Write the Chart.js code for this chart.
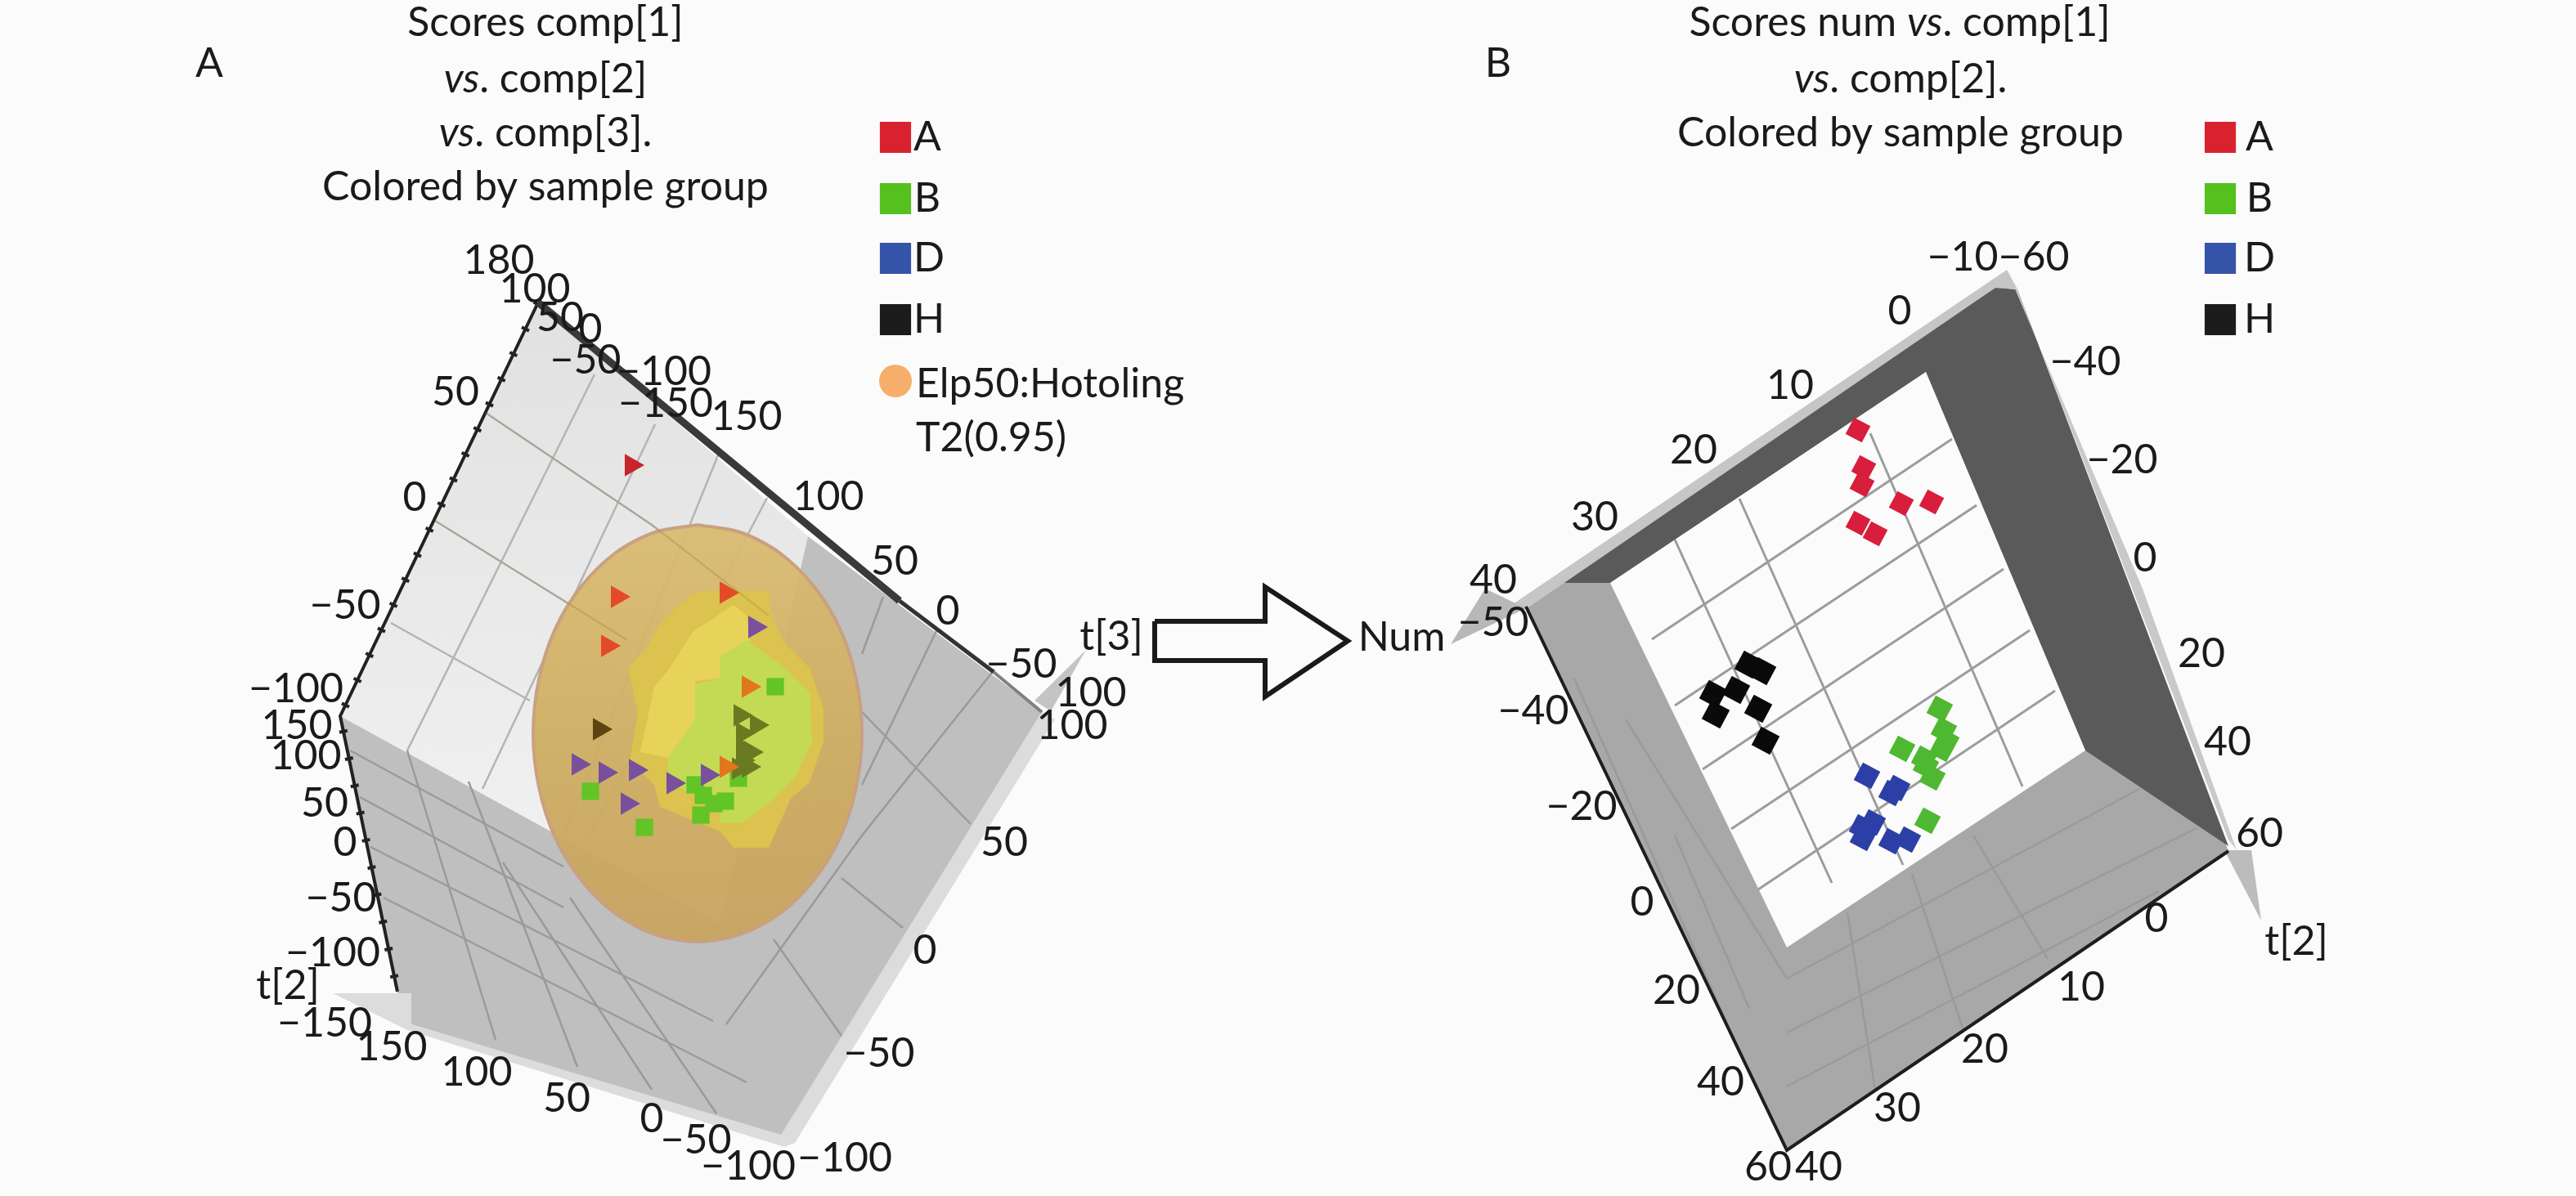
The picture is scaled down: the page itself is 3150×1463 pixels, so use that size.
<!DOCTYPE html>
<html lang="en">
<head>
<meta charset="UTF-8">
<title>Scores plots A and B</title>
<script src="https://cdn.jsdelivr.net/npm/chart.js@4"></script>
<style>
  html, body { margin: 0; padding: 0; background: #fbfbfb; }
  canvas { display: block; }
</style>
</head>
<body>
<canvas id="scores" width="3150" height="1463"></canvas>
<script>
// group markers as [x, y] on the page
const groupA_left = [[772,569],[755,730],[743,790],[888,725],[915,840],[888,938]];
const groupB_left = [[722,968],[788,1012],[948,840],[903,952],[860,973],[873,983],[857,997],[887,980],[850,960]];
const groupD_left = [[707,935],[740,945],[777,942],[767,983],[823,958],[865,948],[923,767]];
const groupH_left = [[733,892],[905,875],[925,887],[908,897],[908,915],[918,920],[908,930],[915,938],[903,940]];

const groupA_right = [[2272,526],[2279,572],[2277,593],[2325,616],[2362,614],[2272,640],[2293,653]];
const groupB_right = [[2372,867],[2377,893],[2380,907],[2375,916],[2326,916],[2353,928],[2355,937],[2363,951],[2357,1004]];
const groupD_right = [[2283,949],[2320,964],[2313,970],[2277,1012],[2290,1006],[2278,1025],[2313,1029],[2333,1027]];
const groupH_right = [[2138,813],[2155,821],[2123,844],[2095,849],[2098,874],[2150,867],[2159,906]];

// panel A box faces
const faceLightA = [[658,370],[988,656],[880,1130],[416,876]];
const faceGreyA = [[416,876],[486,1213],[503,1253],[955,1390],[1274,871],[988,656],[880,1130]];
const slivBottomA = [[407,1215],[503,1215],[503,1253],[955,1388],[959,1403],[498,1260]];
const slivRightA = [[955,1388],[1274,871],[1290,880],[972,1398],[959,1403]];
const arrowT3 = [[1265,857],[1328,795],[1285,870]];

// T2 ellipsoid and its contours
const sphereOutline = [[853,642],[905,651],[953,676],[995,717],[1027,769],[1047,831],[1054,897],[1047,963],[1027,1025],[995,1077],[953,1118],[905,1143],[853,1152],[801,1143],[753,1118],[711,1077],[679,1025],[659,963],[652,897],[659,831],[679,769],[711,717],[753,676],[801,651]];
const zoneDarkYellow = [[853,723],[940,723],[943,753],[960,787],[990,817],[1007,867],[1007,907],[990,957],[967,977],[940,1037],[897,1037],[880,1017],[807,987],[800,960],[770,930],[780,873],[768,817],[790,793],[807,763],[830,740]];
const zoneYellow = [[897,740],[913,753],[917,783],[900,800],[880,817],[880,830],[850,833],[850,880],[817,927],[783,920],[800,840],[817,820],[847,773]];
const zoneGreen = [[913,783],[960,817],[990,847],[993,907],[973,950],[947,977],[907,1007],[880,1007],[880,980],[817,960],[817,927],[850,880],[850,837],[880,830],[880,803]];

// panel A grid lines
const gridLightA = [
  [[594,505],[797,642],[940,753]], [[532,637],[767,783]], [[478,762],[648,857]],
  [[727,458],[498,918]], [[801,519],[590,965]], [[880,552],[690,1020]], [[938,609],[717,1030]]
];
const gridGreyA = [
  [[428,918],[689,1060]], [[440,975],[689,1110]], [[453,1036],[872,1249]], [[469,1098],[913,1324]],
  [[498,918],[606,1272]], [[573,956],[706,1305]], [[615,1055],[797,1333]], [[697,1098],[876,1362]],
  [[1216,819],[1054,1022],[888,1253]], [[1145,772],[1054,960]], [[1187,1008],[1054,871]],
  [[1104,1135],[1029,1074]], [[1029,1267],[946,1149]], [[1080,730],[1054,800]]
];
const edgeLeftA = [[658,370],[416,876],[486,1213]];
const edgeTopA = [[658,370],[1100,735]];
const edgeTopLowerA = [[1100,735],[1215,822]];
const edgeTopEndA = [[1215,822],[1274,871]];

// panel B box
const outerB = [[2450,345],[1866,742],[2185,1407],[2725,1041]];
const wallDarkB = [[2440,352],[1890,713],[1969,713],[2355,455],[2550,918],[2725,1035],[2467,354]];
const floorB = [[1866,742],[1969,713],[2185,1159],[2550,918],[2725,1041],[2185,1407]];
const backB = [[2355,455],[1969,713],[2185,1159],[2550,918]];
const bandTopB = [[2454,330],[1841,745],[1866,745],[2440,352],[2467,354]];
const bandRightB = [[2454,330],[2467,354],[2725,1027],[2735,1040],[2620,720]];
const arrowNum = [[1774,788],[1816,720],[1866,744]];
const arrowT2 = [[2720,1040],[2753,1040],[2765,1126]];

const gridBackB = [
  [[2020,782],[2387,537]], [[2048,863],[2417,618]], [[2082,941],[2450,696]],
  [[2117,1014],[2482,771]], [[2150,1088],[2513,845]],
  [[2048,660],[2240,1080]], [[2127,610],[2327,1058]], [[2287,530],[2473,962]]
];
const gridFloorB = [
  [[2185,1197],[2616,965]], [[2185,1263],[2686,1013]], [[2185,1329],[2640,1090]],
  [[2259,1116],[2293,1333]], [[2338,1069],[2400,1258]], [[2413,1022],[2504,1173]],
  [[2048,1022],[2139,1234]], [[1988,880],[2185,1197]], [[1925,830],[2120,1270]]
];
const edgeB = [[1866,742],[2185,1407],[2725,1041]];

const arrowOutline = [[1412,760],[1547,760],[1547,718],[1648,784],[1547,852],[1547,808],[1412,808]];

// legends
const legendRowY = [168,243,316,391];
const legendColors = ['#d8232f','#55c01e','#3553a8','#1c1c1c'];
const legendNames = ['A','B','D','H'];
const legendLeftX = 1095;
const legendRightX = 2715;
const t2Swatch = [[1095,466]];

// axis tick labels [text, x, y]
const ticksLeft = [
  ['180',610,319],['100',654,354],['50',685,389],['0',722,403],['−50',716,441],['−100',812,455],['−150',814,494],
  ['150',913,510],['100',1013,608],['50',1094,687],['0',1159,748],['−50',1249,813],['100',1334,848],['100',1311,888],
  ['50',557,480],['0',507,609],['−50',422,741],['−100',362,843],['150',363,888],['100',374,925],['50',397,983],
  ['0',422,1031],['−50',417,1099],['−100',407,1166],['−150',397,1252],['150',479,1281],['100',583,1312],['50',693,1344],
  ['0',797,1369],['−50',851,1395],['−100',915,1427],['−100',1033,1417],['−50',1075,1289],['0',1131,1163],['50',1228,1031],
  ['t[2]',352,1206],['t[3]',1359,779]
];
const ticksRight = [
  ['−10',2400,315],['−60',2487,315],['0',2323,381],['10',2189,472],['20',2071,551],['30',1950,633],['40',1826,710],
  ['−40',2550,443],['−20',2595,563],['0',2623,683],['20',2692,800],['40',2724,908],['60',2763,1020],['t[2]',2808,1152],
  ['0',2637,1124],['10',2545,1208],['20',2427,1284],['30',2320,1356],['40',2224,1428],['60',2162,1428],['40',2104,1324],
  ['20',2050,1212],['0',2008,1104],['−20',1934,987],['−40',1875,870],['−50',1826,762],['Num',1714,780]
];
const plainLabels = [
  ['A',256,78],['B',1832,78],
  ['A',1134,168],['B',1134,243],['D',1136,316],['H',1136,391],
  ['A',2763,168],['B',2763,243],['D',2763,316],['H',2763,391]
];
const leftAligned = [['Elp50:Hotoling',1120,470],['T2(0.95)',1120,536]];

// titles: [[text, italic?], ...], x, y
const titles = [
  [[['Scores comp[1]',false]],667,28],
  [[['vs',true],['. comp[2]',false]],667,97],
  [[['vs',true],['. comp[3].',false]],667,163],
  [[['Colored by sample group',false]],667,229],
  [[['Scores num ',false],['vs',true],['. comp[1]',false]],2323,28],
  [[['vs',true],['. comp[2].',false]],2324,97],
  [[['Colored by sample group',false]],2324,163]
];

const FONT = 'Lato, "Open Sans", sans-serif';
const FONT_SIZE = 50;

const ctx = document.getElementById('scores').getContext('2d');

function toPts(list) {
  return list.map(p => ({ x: p[0], y: p[1] }));
}

function poly(list, color, extra) {
  const pts = toPts(list);
  pts.push(pts[0]);
  return Object.assign({ data: pts, showLine: true, fill: 'shape', backgroundColor: color,
    borderColor: color, borderWidth: 0, pointRadius: 0 }, extra || {});
}

function line(list, color, width, extra) {
  return Object.assign({ data: toPts(list), showLine: true, fill: false, borderColor: color,
    borderWidth: width, pointRadius: 0 }, extra || {});
}

function marks(list, color, style, radius, rotation) {
  return { data: toPts(list), showLine: false, backgroundColor: color, borderColor: color, borderWidth: 0,
    pointStyle: style, pointRadius: radius, pointRotation: rotation };
}

const lightGrad = ctx.createLinearGradient(0, 370, 0, 1100);
lightGrad.addColorStop(0, '#e1e1e1');
lightGrad.addColorStop(1, '#f2f2f2');

const sphereGrad = ctx.createLinearGradient(0, 645, 0, 1150);
sphereGrad.addColorStop(0, 'rgba(217,186,110,0.93)');
sphereGrad.addColorStop(0.6, 'rgba(205,172,96,0.95)');
sphereGrad.addColorStop(1, 'rgba(200,164,96,0.96)');

// painter's order, reversed below since chart.js draws the first dataset last
const layers = [];

// panel A
layers.push(poly(faceLightA, lightGrad));
layers.push(poly(faceGreyA, '#bfbfbf'));
layers.push(poly(slivBottomA, '#dcdcdc'));
layers.push(poly(slivRightA, '#dcdcdc'));
layers.push(poly(arrowT3, '#c4c4c4'));
gridLightA.forEach(l => layers.push(line(l, '#b4b4b4', 2.5)));
gridGreyA.forEach(l => layers.push(line(l, '#9a9a9a', 2.5)));
layers.push(line(edgeLeftA, '#222222', 4));
layers.push(line(edgeLeftA, '#222222', 10, { borderDash: [4, 30] }));
layers.push(line(edgeTopA, '#3a3a3a', 9));
layers.push(line(edgeTopLowerA, '#333333', 5));
layers.push(line(edgeTopEndA, '#808080', 4));

layers.push(poly(sphereOutline, sphereGrad, { tension: 0.3, borderColor: '#c9a181', borderWidth: 4 }));
layers.push(poly(zoneDarkYellow, '#dcc24e'));
layers.push(poly(zoneYellow, '#e7d35a'));
layers.push(poly(zoneGreen, '#c4da54'));
gridLightA.slice(0, 2).forEach(l => layers.push(line(l, 'rgba(150,125,60,0.3)', 2)));

layers.push(marks(groupB_left, '#62c426', 'rect', 15, 0));
layers.push(marks(groupH_left.slice(1), '#6a7a20', 'triangle', 16, 90));
layers.push(marks(groupH_left.slice(0, 1), '#5c4410', 'triangle', 16, 90));
layers.push(marks(groupD_left, '#78509c', 'triangle', 16, 90));
layers.push(marks(groupA_left.slice(1, 4), '#e34a28', 'triangle', 16, 90));
layers.push(marks(groupA_left.slice(4), '#e2761f', 'triangle', 16, 90));
layers.push(marks(groupA_left.slice(0, 1), '#c8242c', 'triangle', 16, 90));

// panel B
layers.push(poly(outerB, '#a8a8a8'));
layers.push(poly(floorB, '#a8a8a8'));
layers.push(poly(wallDarkB, '#5a5a5a'));
layers.push(poly(backB, '#fbfbfb'));
layers.push(poly(bandTopB, '#c6c6c6'));
layers.push(poly(bandRightB, '#c9c9c9'));
layers.push(poly(arrowNum, '#b8b8b8'));
layers.push(poly(arrowT2, '#bcbcbc'));
gridBackB.forEach(l => layers.push(line(l, '#9c9c9c', 3)));
gridFloorB.forEach(l => layers.push(line(l, '#9a9a9a', 2.5)));
layers.push(line(edgeB, '#1e1e1e', 4));

layers.push(marks(groupH_right, '#0a0a0a', 'rect', 18, 28));
layers.push(marks(groupB_right, '#4fb832', 'rect', 17, 28));
layers.push(marks(groupD_right, '#2c3fa6', 'rect', 17, 28));
layers.push(marks(groupA_right, '#d81e3c', 'rect', 16, 28));

// arrow between the panels
layers.push(poly(arrowOutline, '#fbfbfb', { borderColor: '#1a1a1a', borderWidth: 6 }));

// legends
legendNames.forEach((name, i) => {
  layers.push(marks([[legendLeftX, legendRowY[i]], [legendRightX, legendRowY[i]]], legendColors[i], 'rect', 27, 0));
});
layers.push(marks(t2Swatch, '#f7ae6b', 'circle', 20, 0));

const textPlugin = {
  id: 'chartText',
  afterDraw(chart) {
    const c = chart.ctx;
    const sx = chart.scales.x, sy = chart.scales.y;
    c.save();
    c.fillStyle = '#1a1a1a';
    c.textBaseline = 'middle';
    c.font = FONT_SIZE + 'px ' + FONT;
    c.textAlign = 'center';
    ticksLeft.concat(ticksRight, plainLabels).forEach(t => {
      c.fillText(t[0], sx.getPixelForValue(t[1]), sy.getPixelForValue(t[2]));
    });
    c.textAlign = 'left';
    leftAligned.forEach(t => {
      c.fillText(t[0], sx.getPixelForValue(t[1]), sy.getPixelForValue(t[2]));
    });
    titles.forEach(t => {
      let w = 0;
      t[0].forEach(seg => {
        c.font = (seg[1] ? 'italic ' : '') + FONT_SIZE + 'px ' + FONT;
        w += c.measureText(seg[0]).width;
      });
      let x = sx.getPixelForValue(t[1]) - w / 2;
      t[0].forEach(seg => {
        c.font = (seg[1] ? 'italic ' : '') + FONT_SIZE + 'px ' + FONT;
        c.fillText(seg[0], x, sy.getPixelForValue(t[2]));
        x += c.measureText(seg[0]).width;
      });
    });
    c.restore();
  }
};

new Chart(ctx, {
  type: 'scatter',
  data: { datasets: layers.reverse().map(d => Object.assign({ clip: false }, d)) },
  options: {
    responsive: false,
    animation: false,
    devicePixelRatio: 1,
    layout: { padding: 0, autoPadding: false },
    plugins: { legend: { display: false }, tooltip: { enabled: false } },
    scales: {
      x: { type: 'linear', min: 0, max: 3150, display: false },
      y: { type: 'linear', min: 0, max: 1463, reverse: true, display: false }
    }
  },
  plugins: [textPlugin]
});
</script>
</body>
</html>
